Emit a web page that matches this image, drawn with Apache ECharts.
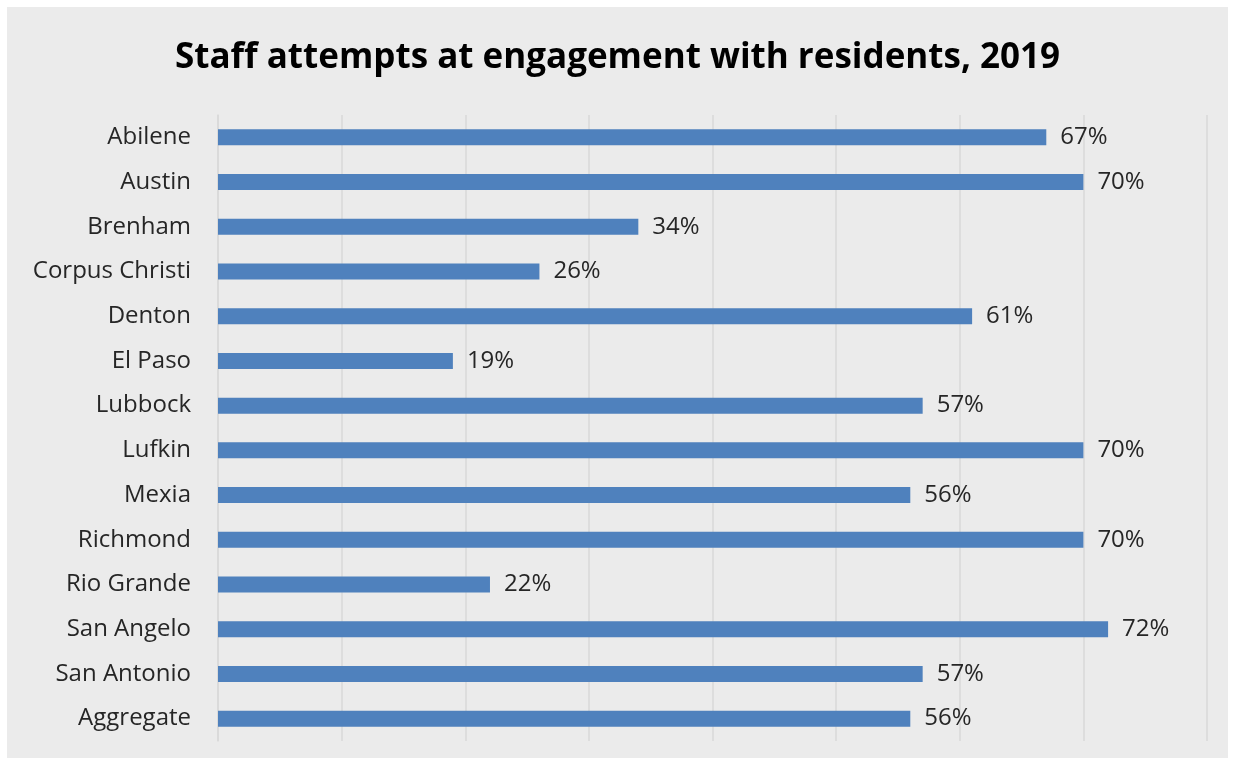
<!DOCTYPE html>
<html><head><meta charset="utf-8">
<script src="https://cdn.jsdelivr.net/npm/echarts@6/dist/echarts.min.js"></script>
<style>
html,body{margin:0;padding:0;background:#fff;}
#wrap{position:absolute;left:7px;top:7px;width:1221px;height:751px;background:#EBEBEB;}
#c{position:absolute;left:-7px;top:-7px;width:1235px;height:763px;}
</style></head>
<body><div id="wrap"><div id="c"></div></div>
<script>
const titleText = 'Staff attempts at engagement with residents, 2019';
const categories = ['Abilene','Austin','Brenham','Corpus Christi','Denton','El Paso','Lubbock','Lufkin','Mexia','Richmond','Rio Grande','San Angelo','San Antonio','Aggregate'];
const values = [67,70,34,26,61,19,57,70,56,70,22,72,57,56];
const axisMin = 0, axisMax = 80, axisStep = 10;

const chart = echarts.init(document.getElementById('c'), null, {renderer:'canvas'});
chart.setOption({
  backgroundColor: 'transparent',
  animation: false,
  title: {
    text: titleText, left: 'center', top: 36,
    textStyle: {fontFamily: 'Open Sans', fontWeight: 'bold', fontSize: 35, color: '#000'}
  },
  grid: {left: 218, right: 28, top: 115, bottom: 22, containLabel: false},
  xAxis: {
    type: 'value', min: axisMin, max: axisMax, interval: axisStep,
    axisLabel: {show: false}, axisLine: {show: false}, axisTick: {show: false},
    splitLine: {show: true, lineStyle: {color: '#D9D9D9', width: 1.5}}
  },
  yAxis: {
    type: 'category', data: categories, inverse: true,
    axisLine: {show: true, lineStyle: {color: '#D9D9D9', width: 1.5}},
    axisTick: {show: false},
    axisLabel: {fontFamily: 'Open Sans', fontSize: 24, color: '#262626', margin: 27}
  },
  series: [{
    type: 'bar', data: values, barWidth: 16,
    itemStyle: {color: '#4F81BD'},
    label: {show: true, position: 'right', distance: 14, formatter: '{c}%',
      fontFamily: 'Open Sans', fontSize: 24, color: '#262626'}
  }]
});
</script></body></html>
